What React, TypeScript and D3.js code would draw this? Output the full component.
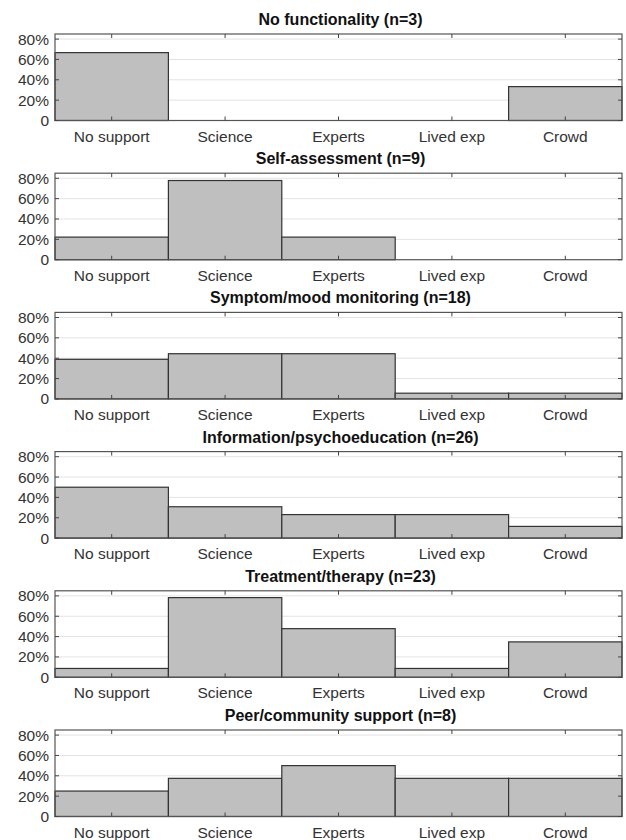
import React from 'react';
import { scaleLinear, scaleBand } from 'd3';

const categories = ['No support', 'Science', 'Experts', 'Lived exp', 'Crowd'];
const titles = [
	'No functionality (n=3)',
	'Self-assessment (n=9)',
	'Symptom/mood monitoring (n=18)',
	'Information/psychoeducation (n=26)',
	'Treatment/therapy (n=23)',
	'Peer/community support (n=8)',
];
// percentages per panel
const noFunctionality = [66.7, 0, 0, 0, 33.3];
const selfAssessment = [22.2, 77.8, 22.2, 0, 0];
const symptomMonitoring = [38.9, 44.4, 44.4, 5.6, 5.6];
const information = [50.0, 30.8, 23.1, 23.1, 11.5];
const treatment = [8.7, 78.3, 47.8, 8.7, 34.8];
const peerSupport = [25.0, 37.5, 50.0, 37.5, 37.5];
const panelValues = [noFunctionality, selfAssessment, symptomMonitoring, information, treatment, peerSupport];
const yTicks = [0, 20, 40, 60, 80];

const W = 626;
const H = 840;
const left = 55;
const right = 622;
const firstTop = 34;
const pitch = 139.2;
const plotH = 86.5;
const font = '"Liberation Sans", Arial, sans-serif';

const Panel = ({ title, values, top }: { title: string; values: number[]; top: number }) => {
	const x = scaleBand<string>().domain(categories).range([left, right]).padding(0);
	const y = scaleLinear().domain([0, 85]).range([top + plotH, top]);
	const bottom = top + plotH;
	const tick = 4;

	return (
		<g>
			<text x={(left + right) / 2 + 2} y={top - 9} textAnchor="middle" fontSize={16} fontWeight="bold" fill="#111">
				{title}
			</text>
			{yTicks.slice(1).map((t) => (
				<line key={t} x1={left} x2={right} y1={y(t)} y2={y(t)} stroke="#e3e3e3" strokeWidth={1} />
			))}
			{values.map((v, i) => (
				<rect
					key={i}
					x={x(categories[i])}
					y={y(v)}
					width={x.bandwidth()}
					height={bottom - y(v)}
					fill="#bfbfbf"
					stroke="#333"
					strokeWidth={1.2}
				/>
			))}
			<rect x={left} y={top} width={right - left} height={plotH} fill="none" stroke="#555" strokeWidth={1.2} />
			{categories.map((c) => {
				const cx = (x(c) as number) + x.bandwidth() / 2;
				return (
					<g key={c}>
						<line x1={cx} x2={cx} y1={bottom} y2={bottom - tick} stroke="#444" />
						<line x1={cx} x2={cx} y1={top} y2={top + tick} stroke="#444" />
						<text x={cx} y={bottom + 21} textAnchor="middle" fontSize={15.5} fill="#333">
							{c}
						</text>
					</g>
				);
			})}
			{yTicks.map((t) => (
				<g key={t}>
					<line x1={left} x2={left + tick} y1={y(t)} y2={y(t)} stroke="#444" />
					<line x1={right} x2={right - tick} y1={y(t)} y2={y(t)} stroke="#444" />
					<text x={left - 6} y={y(t) + 5.5} textAnchor="end" fontSize={15.5} fill="#333">
						{t === 0 ? '0' : t + '%'}
					</text>
				</g>
			))}
		</g>
	);
};

export default function App() {
	return (
		<svg width={W} height={H} style={{ position: 'absolute', left: 0, top: 0, background: '#fff' }} fontFamily={font}>
			<rect width={W} height={H} fill="#fff" />
			{panelValues.map((vals, i) => (
				<Panel key={i} title={titles[i]} values={vals} top={firstTop + i * pitch} />
			))}
		</svg>
	);
}
